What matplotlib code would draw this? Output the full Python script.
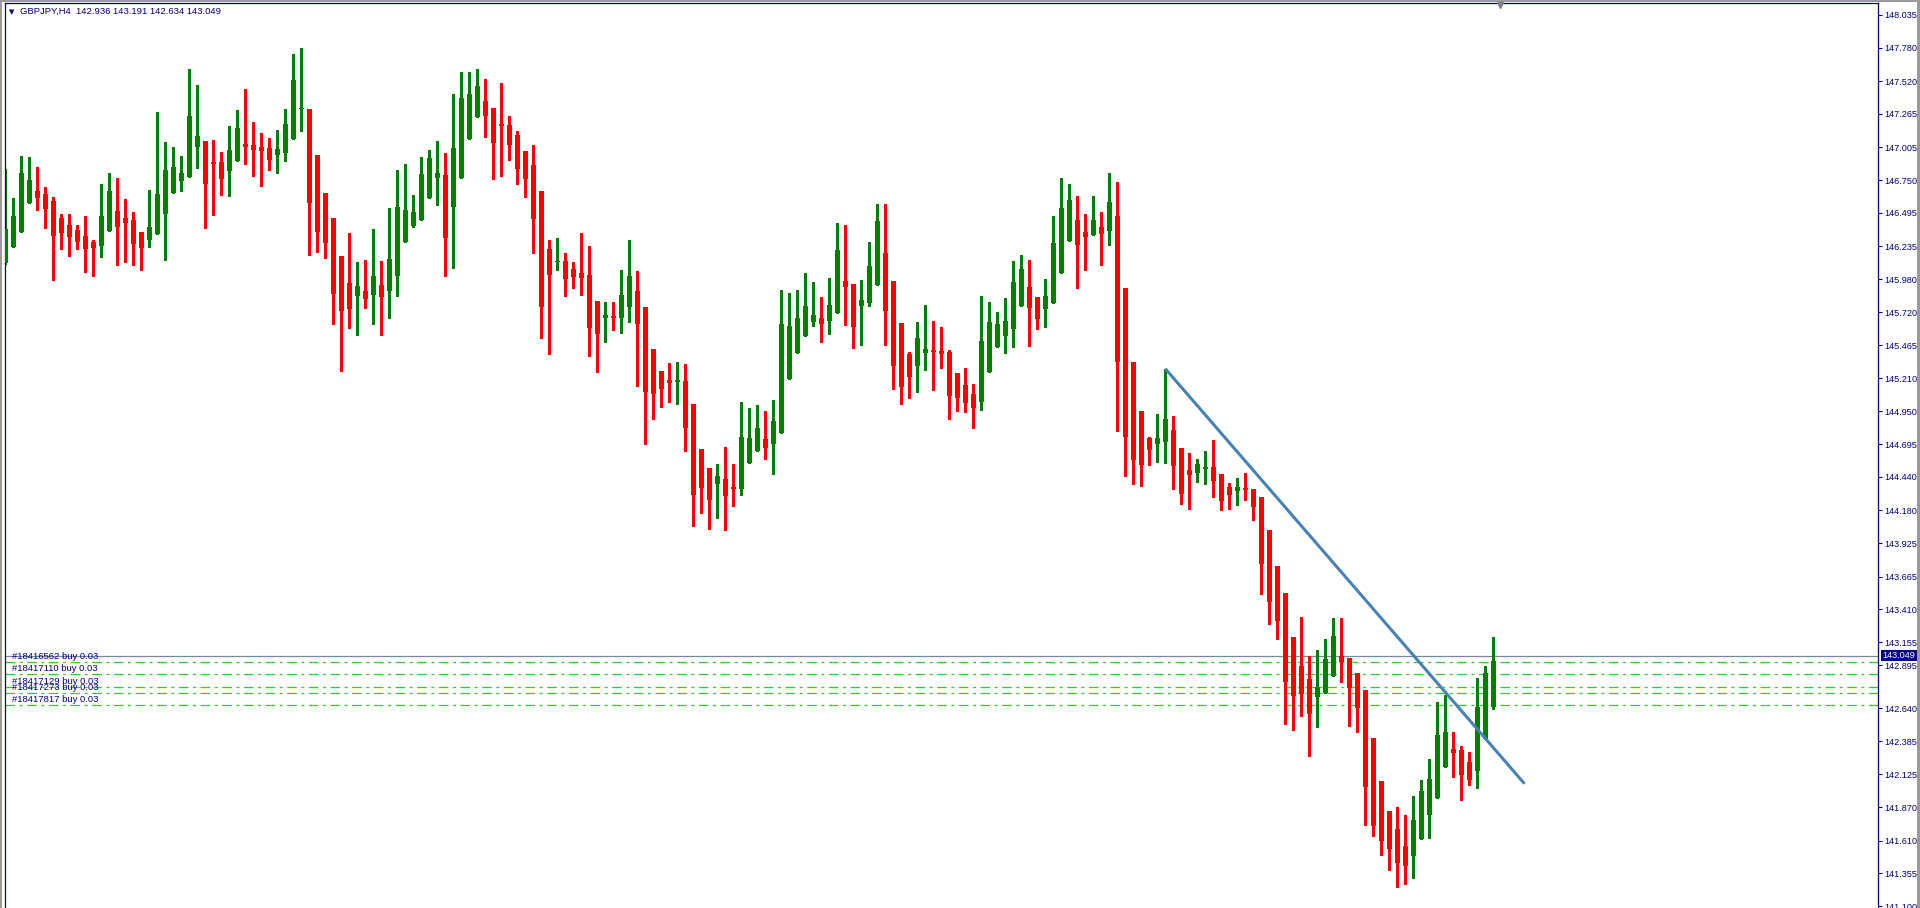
import matplotlib
matplotlib.use('Agg')
import matplotlib.pyplot as plt
import matplotlib.transforms as mtransforms
from matplotlib.patches import Rectangle
from matplotlib.lines import Line2D
import numpy as np

plt.rcParams['font.family'] = ['Liberation Sans', 'DejaVu Sans']
plt.rcParams['lines.scale_dashes'] = False

# ---------------- data ----------------
symbol_header = "GBPJPY,H4  142.936 143.191 142.634 143.049"

opens = [146.103, 146.232, 146.349, 146.575, 146.665, 146.642, 146.588, 146.456, 146.401, 146.362,
         146.315, 146.268, 146.237, 146.354, 146.510, 146.456, 146.440, 146.346, 146.284, 146.331,
         146.487, 146.650, 146.743, 146.775, 147.008, 147.054, 146.891, 146.891, 146.821, 146.899,
         147.031, 147.023, 147.008, 147.000, 146.946, 146.961, 147.070, 147.304, 147.304, 146.946,
         146.650, 146.456, 146.160, 145.950, 145.851, 145.887, 145.858, 145.934, 145.890, 146.007,
         146.271, 146.396, 146.442, 146.614, 146.769, 146.790, 146.544, 146.769, 147.073, 147.244,
         147.366, 147.311, 147.179, 147.179, 147.101, 146.977, 146.868, 146.665, 146.214, 146.113,
         146.121, 146.059, 146.028, 146.012, 145.809, 145.680, 145.693, 145.680, 145.765, 145.887,
         145.763, 145.436, 145.265, 145.195, 145.182, 145.187, 145.008, 144.658, 144.510, 144.388,
         144.424, 144.365, 144.349, 144.551, 144.645, 144.736, 144.699, 144.785, 145.205, 145.405,
         145.537, 145.646, 145.677, 145.654, 145.716, 145.965, 145.942, 145.771, 145.794, 145.934,
         146.183, 145.965, 145.639, 145.397, 145.304, 145.405, 145.428, 145.421, 145.413, 145.249,
         145.156, 145.086, 145.023, 145.257, 145.452, 145.537, 145.592, 145.771, 145.919, 145.841,
         145.747, 145.794, 146.028, 146.276, 146.440, 146.346, 146.323, 146.386, 146.354, 146.471,
         145.911, 145.335, 144.954, 144.743, 144.699, 144.715, 144.806, 144.665, 144.494, 144.473,
         144.505, 144.518, 144.463, 144.362, 144.333, 144.357, 144.346, 144.284, 144.027, 143.747,
         143.537, 143.194, 142.969, 142.868, 142.730, 142.761, 142.894, 143.049, 143.031, 142.915,
         142.780, 142.409, 142.072, 141.839, 141.700, 141.568, 141.493, 141.625, 141.812, 141.944,
         142.186, 142.323, 142.315, 142.222, 142.154, 142.403, 142.653]

highs = [146.837, 146.611, 146.938, 146.933, 146.855, 146.699, 146.616, 146.487, 146.487, 146.401,
         146.471, 146.284, 146.720, 146.806, 146.767, 146.603, 146.502, 146.346, 146.673, 147.280,
         147.046, 147.008, 146.938, 147.615, 147.490, 147.056, 147.062, 146.969, 147.171, 147.296,
         147.459, 147.202, 147.117, 147.078, 147.140, 147.304, 147.732, 147.779, 147.306, 146.948,
         146.652, 146.458, 146.162, 146.339, 146.113, 146.129, 146.370, 146.121, 146.534, 146.829,
         146.876, 146.634, 146.930, 146.985, 147.054, 146.961, 147.420, 147.592, 147.592, 147.615,
         147.537, 147.313, 147.506, 147.249, 147.133, 146.979, 147.024, 146.667, 146.284, 146.300,
         146.183, 146.113, 146.339, 146.237, 145.811, 145.802, 145.802, 146.051, 146.284, 146.043,
         145.765, 145.438, 145.267, 145.327, 145.335, 145.319, 145.010, 144.660, 144.512, 144.541,
         144.673, 144.541, 145.023, 144.977, 145.000, 144.954, 145.039, 145.895, 145.872, 145.895,
         146.028, 145.958, 145.841, 145.988, 146.417, 146.401, 145.944, 145.973, 146.268, 146.565,
         146.565, 145.967, 145.641, 145.413, 145.646, 145.778, 145.654, 145.607, 145.428, 145.251,
         145.288, 145.164, 145.848, 145.802, 145.724, 145.833, 146.121, 146.168, 146.129, 145.843,
         145.981, 146.471, 146.767, 146.720, 146.627, 146.487, 146.627, 146.502, 146.806, 146.736,
         145.913, 145.337, 144.956, 144.749, 144.930, 145.283, 144.915, 144.667, 144.627, 144.580,
         144.642, 144.728, 144.465, 144.393, 144.432, 144.471, 144.348, 144.286, 144.029, 143.749,
         143.539, 143.196, 143.350, 143.047, 143.093, 143.179, 143.343, 143.343, 143.033, 142.917,
         142.782, 142.411, 142.074, 141.841, 141.872, 141.810, 141.957, 142.082, 142.245, 142.689,
         142.743, 142.456, 142.347, 142.300, 142.876, 142.969, 143.191]

lows = [146.100, 146.230, 146.347, 146.570, 146.518, 146.380, 145.973, 146.214, 146.160, 146.214,
        146.038, 146.004, 146.153, 146.352, 146.090, 146.113, 146.090, 146.051, 146.230, 146.329,
        146.129, 146.648, 146.665, 146.773, 146.845, 146.378, 146.479, 146.634, 146.626, 146.897,
        146.876, 146.783, 146.704, 146.829, 146.806, 146.899, 147.068, 147.132, 146.168, 146.191,
        146.147, 145.633, 145.268, 145.602, 145.547, 145.752, 145.633, 145.547, 145.680, 145.851,
        146.269, 146.388, 146.440, 146.612, 146.559, 146.007, 146.069, 146.767, 147.071, 147.242,
        147.088, 146.761, 146.785, 146.909, 146.722, 146.621, 146.186, 145.524, 145.399, 146.053,
        145.851, 145.913, 145.858, 145.384, 145.260, 145.493, 145.586, 145.563, 145.649, 145.150,
        144.699, 144.894, 144.987, 145.026, 145.010, 144.645, 144.061, 144.162, 144.037, 144.124,
        144.030, 144.217, 144.302, 144.549, 144.643, 144.582, 144.466, 144.783, 145.203, 145.403,
        145.535, 145.615, 145.491, 145.553, 145.714, 145.623, 145.444, 145.467, 145.771, 145.932,
        145.467, 145.125, 145.008, 145.055, 145.101, 145.273, 145.117, 145.288, 144.891, 144.954,
        144.946, 144.821, 144.961, 145.255, 145.450, 145.405, 145.452, 145.769, 145.460, 145.592,
        145.607, 145.792, 146.026, 146.274, 145.911, 146.051, 146.321, 146.090, 146.245, 144.798,
        144.448, 144.388, 144.372, 144.536, 144.559, 144.551, 144.349, 144.232, 144.193, 144.403,
        144.388, 144.287, 144.185, 144.193, 144.224, 144.263, 144.108, 143.532, 143.298, 143.182,
        142.520, 142.473, 142.581, 142.271, 142.497, 142.759, 142.892, 142.847, 142.505, 142.458,
        141.734, 141.648, 141.500, 141.384, 141.252, 141.275, 141.322, 141.623, 141.633, 141.942,
        142.184, 142.108, 141.928, 142.045, 142.022, 142.401, 142.634]

closes = [146.370, 146.471, 146.806, 146.751, 146.613, 146.526, 146.315, 146.341, 146.308, 146.271,
          146.214, 146.222, 146.471, 146.665, 146.386, 146.417, 146.253, 146.222, 146.386, 146.642,
          146.829, 146.853, 146.806, 147.249, 147.093, 146.720, 146.876, 146.759, 146.985, 147.156,
          147.008, 146.985, 146.977, 146.907, 146.992, 147.187, 147.529, 147.311, 146.573, 146.344,
          146.263, 145.866, 145.735, 145.749, 145.926, 145.827, 146.004, 145.843, 146.137, 146.541,
          146.518, 146.502, 146.798, 146.922, 146.806, 146.302, 147.000, 147.389, 147.420, 147.483,
          147.252, 147.041, 147.174, 147.026, 146.839, 146.759, 146.448, 145.765, 146.012, 146.121,
          145.983, 145.999, 145.991, 145.602, 145.555, 145.701, 145.680, 145.856, 146.004, 145.633,
          145.104, 145.088, 145.127, 145.174, 145.197, 144.824, 144.302, 144.357, 144.263, 144.448,
          144.295, 144.349, 144.751, 144.743, 144.821, 144.668, 144.876, 145.631, 145.615, 145.677,
          145.771, 145.701, 145.631, 145.778, 146.207, 145.919, 145.607, 145.817, 146.082, 146.432,
          145.732, 145.304, 145.140, 145.218, 145.522, 145.436, 145.413, 145.397, 145.070, 145.055,
          145.016, 144.977, 145.498, 145.646, 145.631, 145.654, 145.958, 146.059, 145.755, 145.669,
          145.848, 146.261, 146.533, 146.596, 146.245, 146.308, 146.440, 146.331, 146.580, 145.335,
          144.751, 144.575, 144.536, 144.652, 144.746, 144.889, 144.528, 144.310, 144.458, 144.541,
          144.520, 144.411, 144.255, 144.302, 144.362, 144.341, 144.209, 143.765, 143.470, 143.322,
          142.847, 142.738, 142.753, 142.598, 142.806, 143.023, 143.202, 143.002, 142.800, 142.644,
          142.030, 141.726, 141.609, 141.547, 141.439, 141.415, 141.771, 141.996, 142.090, 142.432,
          142.456, 142.294, 142.123, 142.084, 142.650, 142.914, 143.010]

# trend line (bar index, price)
trend_x = [145, 189.9]
trend_y = [145.283, 142.053]

# open orders
order_prices = [142.997, 142.904, 142.803, 142.756, 142.663]
order_labels = ["#18416562 buy 0.03", "#18417110 buy 0.03", "#18417129 buy 0.03",
                "#18417273 buy 0.03", "#18417817 buy 0.03"]

bid_price = 143.049
bid_label = "143.049"

price_ticks = [148.035, 147.780, 147.520, 147.265, 147.005, 146.750, 146.495, 146.235,
               145.980, 145.720, 145.465, 145.210, 144.950, 144.695, 144.440, 144.180,
               143.925, 143.665, 143.410, 143.155, 142.895, 142.640, 142.385, 142.125,
               141.870, 141.610, 141.355, 141.100]
price_tick_labels = ["%.3f" % v for v in price_ticks]

# ---------------- figure ----------------
W, H = 1920, 908
DPI = 100
fig = plt.figure(figsize=(W / DPI, H / DPI), dpi=DPI)
fig.patch.set_facecolor('white')

NAVY = '#000080'
BULL = '#008000'
BEAR = '#FF0000'

ax_left, ax_right, ax_top = 4.5, 1878.0, 3.3
ax = fig.add_axes([ax_left / W, 0, (ax_right - ax_left) / W, (H - ax_top) / H])
ax.set_facecolor('white')

o = np.array(opens); h = np.array(highs); l = np.array(lows); c = np.array(closes)
idx = np.arange(len(o))
bull = c >= o
colors = np.where(bull, BULL, BEAR)

ax.vlines(idx, l, h, colors=colors, linewidth=0.75, antialiased=False, zorder=2)
body_bottom = np.minimum(o, c)
body_h = np.maximum(np.abs(c - o), 0.009)
ax.bar(idx, body_h, bottom=body_bottom, width=0.625, color=colors,
       linewidth=0, antialiased=False, zorder=3)

# bid line
ax.axhline(bid_price, color='#7A8899', linewidth=0.9, zorder=1)

# order lines and labels
label_trans = mtransforms.blended_transform_factory(fig.transFigure, ax.transData)
label_trans = mtransforms.offset_copy(label_trans, fig=fig, x=0, y=3, units='dots')
for p, t in zip(order_prices, order_labels):
    ax.axhline(p, color='#32CD32', linewidth=0.9, dashes=(7, 3.2, 2.2, 3.2), zorder=1)
    ax.text(11.7 / W, p, t, transform=label_trans, color=NAVY, fontsize=6.8,
            ha='left', va='baseline', zorder=5)

# trend line
ax.plot(trend_x, trend_y, color='#4682B4', linewidth=2.2, solid_capstyle='butt', zorder=4)

ax.set_xlim(-0.1, (ax_right - 5.3) / 8.0)
ax.set_ylim(141.086, 148.126)

for side in ['left', 'top', 'right']:
    ax.spines[side].set_color(NAVY)
    ax.spines[side].set_linewidth(0.9)
ax.spines['bottom'].set_visible(False)

ax.set_xticks([])
ax.yaxis.tick_right()
ax.set_yticks(price_ticks)
ax.set_yticklabels(price_tick_labels)
ax.tick_params(axis='y', direction='out', length=3, width=0.75, color=NAVY,
               labelcolor=NAVY, labelsize=6.6, pad=1.5)
# the 142.895 label sits just below the bid box
ticks = ax.yaxis.get_major_ticks()
shift = mtransforms.ScaledTranslation(0, 10.5 / DPI, fig.dpi_scale_trans)
ticks[price_ticks.index(142.895)].label2.set_transform(
    ticks[price_ticks.index(142.895)].label2.get_transform() + shift)
ticks[price_ticks.index(142.895)].tick2line.set_transform(
    ticks[price_ticks.index(142.895)].tick2line.get_transform() + shift)

# bid box on price scale
box_trans = mtransforms.blended_transform_factory(fig.transFigure, ax.transData)
box_h = 11.0 / 128.5
fig.add_artist(Rectangle((1880.5 / W, bid_price - box_h / 2), 36.5 / W, box_h,
                         transform=box_trans, facecolor=NAVY, edgecolor='none', zorder=6))
fig.text((1880.5 + 18.2) / W, bid_price, bid_label, transform=box_trans, color='white',
         fontsize=6.6, ha='center', va='center', zorder=7)

# header
fig.text(12 / W, 1 - 12 / H, '\u25BC', fontsize=5, family='DejaVu Sans', color=NAVY,
         ha='center', va='center')
fig.text(20 / W, 1 - 11.7 / H, symbol_header, fontsize=6.8, color=NAVY,
         ha='left', va='center')

# window frame
GRAY = '#9A9A9A'
fig.add_artist(Rectangle((0, 0), 2.0 / W, 1, transform=fig.transFigure, facecolor=GRAY,
                         edgecolor='none'))
fig.add_artist(Rectangle((0, 1 - 1.7 / H), 1, 1.7 / H, transform=fig.transFigure,
                         facecolor=GRAY, edgecolor='none'))
fig.add_artist(Rectangle((1917.0 / W, 0), 3.0 / W, 1, transform=fig.transFigure,
                         facecolor=GRAY, edgecolor='none'))
# chart shift marker
fig.add_artist(Line2D([1500 / W], [1 - 4.5 / H], transform=fig.transFigure, marker='v',
                      markersize=5, color='#808080', linestyle='none'))

fig.savefig('out.png', dpi=DPI, facecolor='white')
